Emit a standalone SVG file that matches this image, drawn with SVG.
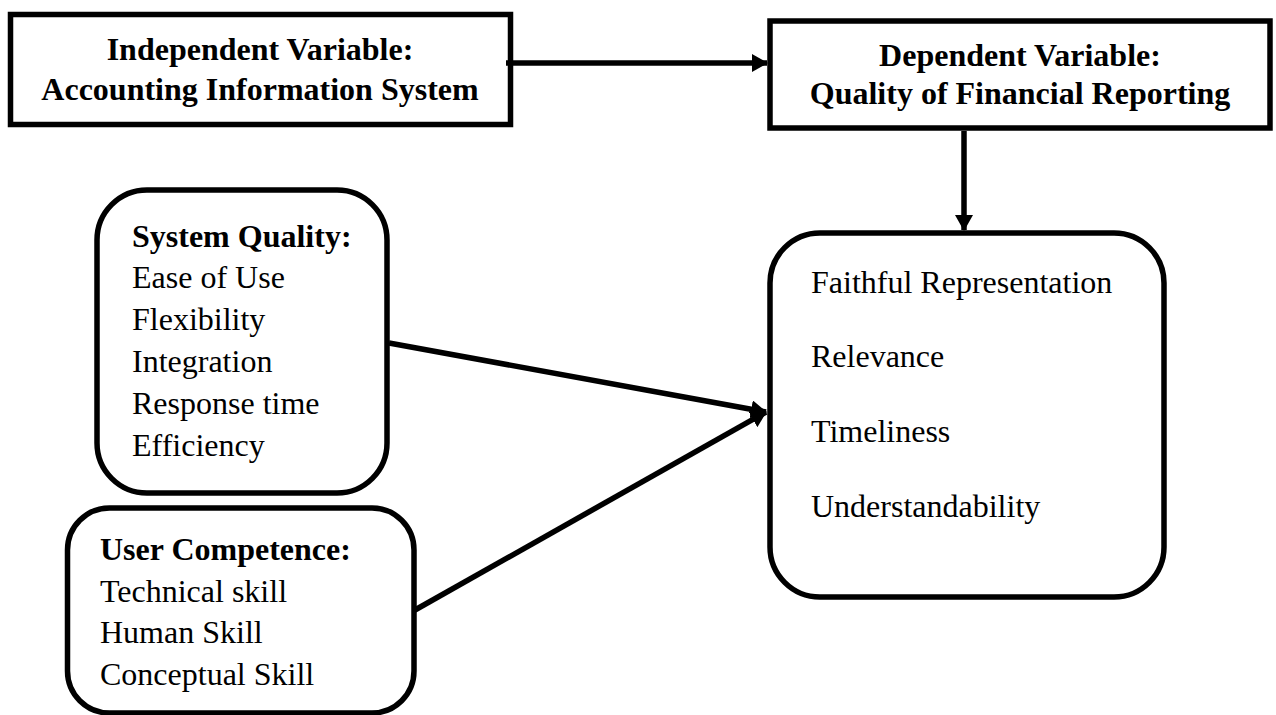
<svg xmlns="http://www.w3.org/2000/svg" width="1276" height="715" viewBox="0 0 1276 715">
<style>
.box{fill:#fff;stroke:#000;stroke-width:5.5}
.t{font-family:"Liberation Serif","Times New Roman",serif;font-size:32px;fill:#000}
.b{font-weight:bold}
.c{text-anchor:middle}
.edge{stroke:#000;stroke-width:5.5;fill:none}
</style>
<defs>
<marker id="ah" viewBox="0 0 16 18" refX="15" refY="9" markerWidth="16" markerHeight="18" markerUnits="userSpaceOnUse" orient="auto">
<path d="M0,0 L16,9 L0,18 Z" fill="#000"/>
</marker>
</defs>
<rect width="1276" height="715" fill="#fff"/>
<g id="independent">
<rect class="box" x="10.5" y="14.5" width="500" height="110"/>
<text class="t b c" x="260" y="60">Independent Variable:</text>
<text class="t b c" x="260" y="100">Accounting Information System</text>
</g>
<g id="dependent">
<rect class="box" x="770" y="21" width="500" height="107"/>
<text class="t b c" x="1020" y="66">Dependent Variable:</text>
<text class="t b c" x="1020" y="104">Quality of Financial Reporting</text>
</g>
<g id="system-quality">
<rect class="box" x="97" y="190" width="290" height="303" rx="50" ry="50"/>
<text class="t b" x="132" y="247">System Quality:</text>
<text class="t" x="132" y="288">Ease of Use</text>
<text class="t" x="132" y="330">Flexibility</text>
<text class="t" x="132" y="372">Integration</text>
<text class="t" x="132" y="414">Response time</text>
<text class="t" x="132" y="456">Efficiency</text>
</g>
<g id="user-competence">
<rect class="box" x="67.5" y="508" width="346.5" height="205" rx="42" ry="42"/>
<text class="t b" x="100" y="560">User Competence:</text>
<text class="t" x="100" y="602">Technical skill</text>
<text class="t" x="100" y="643">Human Skill</text>
<text class="t" x="100" y="685">Conceptual Skill</text>
</g>
<g id="reporting-quality">
<rect class="box" x="770" y="233" width="394" height="364" rx="50" ry="50"/>
<text class="t" x="811" y="293">Faithful Representation</text>
<text class="t" x="811" y="367">Relevance</text>
<text class="t" x="811" y="442">Timeliness</text>
<text class="t" x="811" y="517">Understandability</text>
</g>
<g id="connectors">
<line class="edge" x1="506" y1="63" x2="767" y2="63" marker-end="url(#ah)"/>
<line class="edge" x1="964" y1="131" x2="964" y2="230" marker-end="url(#ah)"/>
<line class="edge" x1="389" y1="343" x2="766" y2="412" marker-end="url(#ah)"/>
<line class="edge" x1="415" y1="610" x2="766" y2="412" marker-end="url(#ah)"/>
</g>
</svg>
